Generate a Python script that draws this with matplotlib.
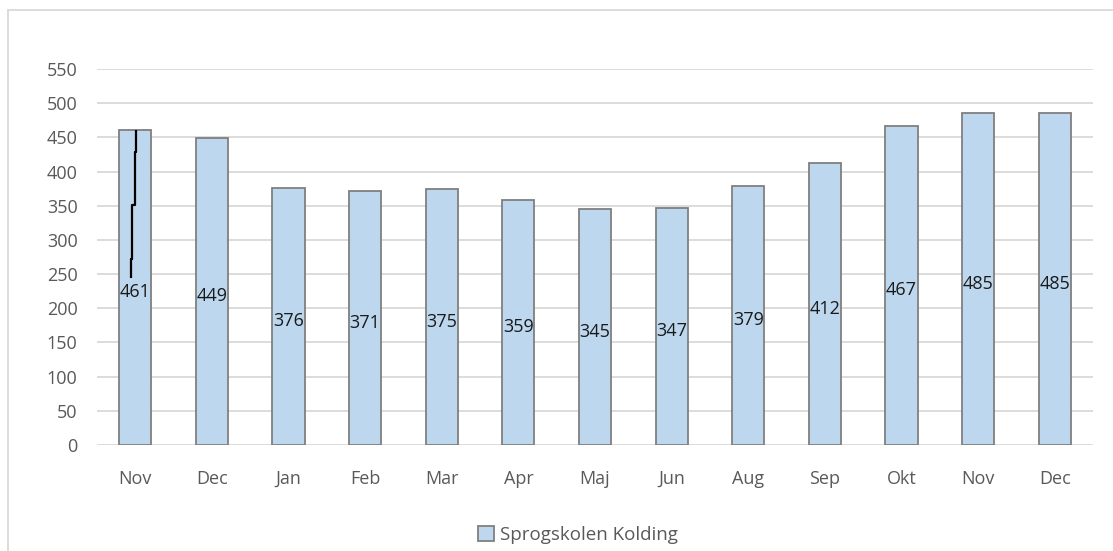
import matplotlib
matplotlib.use("Agg")
import matplotlib.pyplot as plt
from matplotlib.patches import Patch
from matplotlib.lines import Line2D
from matplotlib.transforms import offset_copy

categories = ["Nov", "Dec", "Jan", "Feb", "Mar", "Apr", "Maj", "Jun", "Aug", "Sep", "Okt", "Nov", "Dec"]
values = [461, 449, 376, 371, 375, 359, 345, 347, 379, 412, 467, 485, 485]
series_name = "Sprogskolen Kolding"
yticks = list(range(0, 551, 50))

plt.rcParams['font.family'] = ['Open Sans', 'DejaVu Sans']

fig = plt.figure(figsize=(11.13, 5.51), dpi=100)
ax = fig.add_axes([97/1113, (551-445)/551, 996/1113, (445-69)/551])

x = list(range(len(categories)))
bars = ax.bar(x, values, width=0.42, color="#bdd7ee", edgecolor="#7f7f7f", linewidth=1.3, zorder=3)

ax.set_xlim(-0.5, len(categories) - 0.5)
ax.set_ylim(0, 550)
ax.set_yticks(yticks)
ax.set_xticks(x)
ax.set_xticklabels(categories)
ax.grid(axis="y", color="#d9d9d9", linewidth=1.3, zorder=0)
ax.set_axisbelow(True)
for s in ["top", "right", "left", "bottom"]:
    ax.spines[s].set_visible(False)
ax.tick_params(axis="both", length=0, labelsize=13, colors="#595959")
ax.tick_params(axis="x", pad=18)
ax.tick_params(axis="y", pad=14)

# data labels centered in bars (slightly below center, as in the reference)
lab_tr = offset_copy(ax.transData, fig=fig, x=0, y=-3.5, units="points")
for xi, v in zip(x, values):
    ax.text(xi, v / 2, str(v), ha="center", va="center", fontsize=13,
            color="#1a1a1a", zorder=5, transform=lab_tr)

# leader line on first bar (from label up to bar top)
v0 = values[0]
lx = [-0.056, -0.056, -0.04, -0.04, -0.004, -0.004, 0.013, 0.013]
ly = [v0 * 0.53, v0 * 0.59, v0 * 0.59, v0 * 0.76, v0 * 0.76, v0 * 0.93, v0 * 0.93, v0]
ax.plot(lx, ly, color="#000000", linewidth=1.6, zorder=6, solid_capstyle="butt")

# legend
handle = Patch(facecolor="#bdd7ee", edgecolor="#7f7f7f", linewidth=1.3, label=series_name)
fig.legend(handles=[handle], loc="center", bbox_to_anchor=(578/1113, 1 - 535/551),
           frameon=False, fontsize=13.5, labelcolor="#595959",
           handlelength=0.85, handleheight=0.85, handletextpad=0.35)

# chart area border (top and left visible)
fig.add_artist(Line2D([8/1113, 1], [1 - 10/551, 1 - 10/551], color="#d9d9d9", linewidth=1.3))
fig.add_artist(Line2D([8/1113, 8/1113], [0, 1 - 10/551], color="#d9d9d9", linewidth=1.3))

fig.savefig("out.png", dpi=100, facecolor="white")
